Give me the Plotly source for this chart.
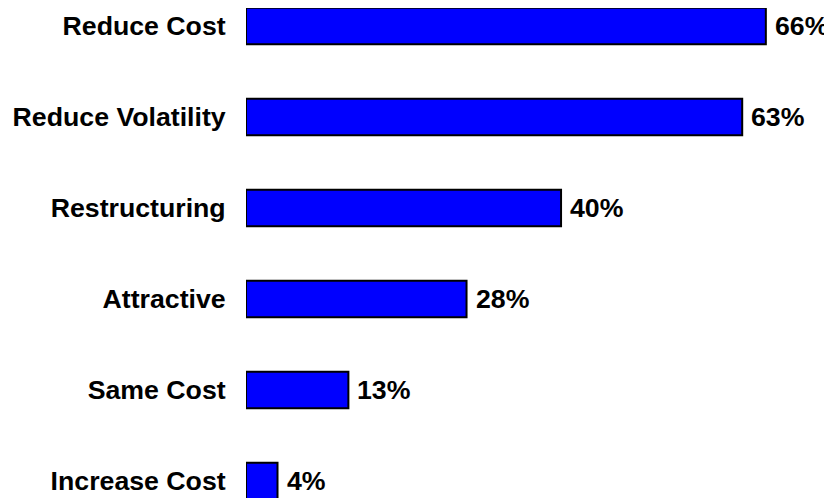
import plotly.graph_objects as go

categories = ["Reduce Cost", "Reduce Volatility", "Restructuring", "Attractive", "Same Cost", "Increase Cost"]
values = [66, 63, 40, 28, 13, 4]
value_labels = ["66%", "63%", "40%", "28%", "13%", "4%"]

font = dict(family="Arial, Liberation Sans, sans-serif", size=26.7, color="black")

fig = go.Figure(go.Bar(
    x=values, y=categories, orientation="h", width=0.4,
    marker=dict(color="#0000FF", line=dict(color="black", width=2)),
    hoverinfo="skip",
))

for v, c, t in zip(values, categories, value_labels):
    fig.add_annotation(x=v, y=c, text="<b>" + t + "</b>", showarrow=False,
                       xanchor="left", xshift=7, font=font)

# page body has an 8px margin, so the figure is sized to fit the window
fig.update_layout(
    width=824, height=490,
    margin=dict(l=238, r=0, t=0, b=0, autoexpand=False),
    paper_bgcolor="white", plot_bgcolor="white",
    showlegend=False,
    xaxis=dict(range=[0, 74.4], visible=False, showgrid=False, zeroline=False,
               automargin=False),
    yaxis=dict(range=[5.187, -0.198], showgrid=False, zeroline=False, showline=False,
               automargin=False,
               ticks="outside", ticklen=14, tickcolor="rgba(0,0,0,0)",
               tickvals=categories,
               ticktext=["<b>" + c + "</b>" for c in categories],
               tickfont=font),
)

fig.write_html("out.html")
